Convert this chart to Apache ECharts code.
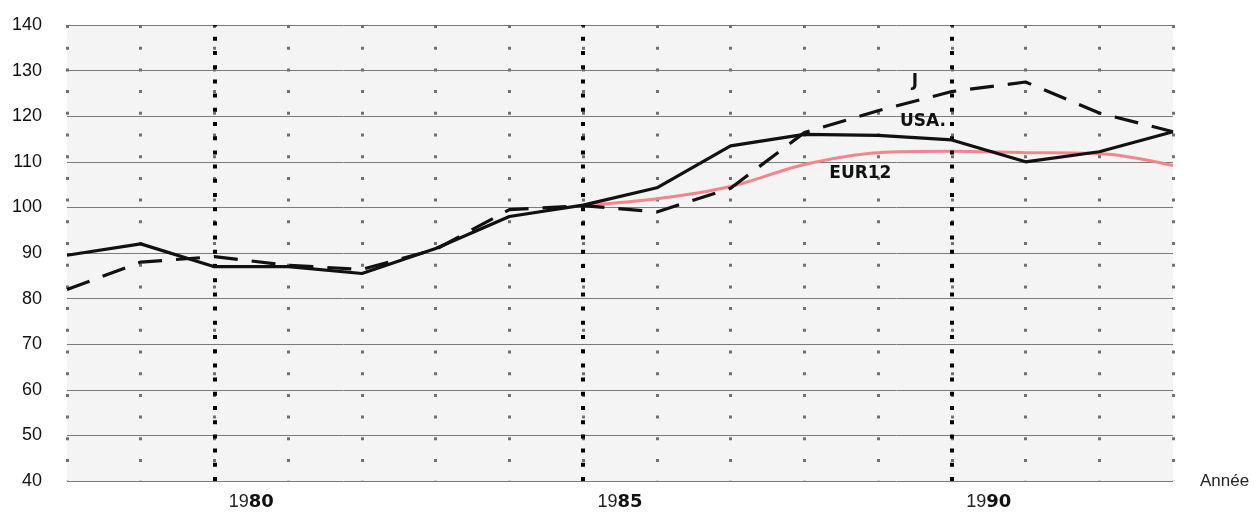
<!DOCTYPE html>
<html>
<head>
<meta charset="utf-8">
<script src="https://cdn.jsdelivr.net/npm/echarts@6/dist/echarts.min.js"></script>
<style>
html, body { margin: 0; padding: 0; background: #fff; }
#chart { width: 1258px; height: 518px; }
</style>
</head>
<body>
<div id="chart"></div>
<script>
// années (début de chaque année = une ligne verticale)
var years = [1978, 1979, 1980, 1981, 1982, 1983, 1984, 1985, 1986, 1987, 1988, 1989, 1990, 1991, 1992, 1993];
var usaValues = [89.5, 92, 87, 87, 85.5, 91, 98, 100.5, 104.3, 113.5, 116, 115.8, 114.8, 110, 112.2, 116.6];
var japonValues = [82, 88, 89.2, 87.3, 86.4, 90.8, 99.5, 100.4, 99, 104.2, 116.4, 121.2, 125.4, 127.5, 120.7, 116.6];
var eurYears = [1985, 1986, 1987, 1988, 1989, 1990, 1991, 1992, 1993];
var eurValues = [100.4, 101.9, 104.6, 109.4, 112, 112.3, 112, 111.8, 109.2];
var majorYears = [1980, 1985, 1990];          // lignes pointillées épaisses
var yearLabels = [1980.5, 1985.5, 1990.5];    // libellés au milieu de l'année
var yMin = 40, yMax = 140, yStep = 10;

function pairs(xs, ys) {
    var out = [];
    for (var i = 0; i < xs.length; i++) {
        out.push([xs[i], ys[i]]);
    }
    return out;
}

// étiquette posée sur un point (x, y) du repère
function tag(text, x, y) {
    return {
        symbol: 'circle',
        symbolSize: 1,
        silent: true,
        itemStyle: { color: 'rgba(0,0,0,0)' },
        label: {
            show: true,
            position: 'inside',
            formatter: text,
            fontFamily: 'DejaVu Sans',
            fontWeight: 'bold',
            fontSize: 17,
            color: '#111'
        },
        data: [{ coord: [x, y] }]
    };
}

var chart = echarts.init(document.getElementById('chart'));
chart.setOption({
    animation: false,
    grid: {
        left: 67,
        right: 85,
        top: 25,
        bottom: 37,
        show: true,
        backgroundColor: '#f4f4f4',
        borderWidth: 0
    },
    xAxis: {
        type: 'value',
        min: years[0],
        max: years[years.length - 1],
        interval: 1,
        name: 'Année',
        nameLocation: 'end',
        nameGap: 27,
        nameTextStyle: {
            fontFamily: 'Liberation Sans',
            fontSize: 17,
            color: '#222',
            verticalAlign: 'middle'
        },
        axisLine: { show: false },
        axisTick: { show: false },
        axisLabel: {
            customValues: yearLabels,
            margin: 12,
            formatter: function (v) {
                var s = String(Math.floor(v));
                return '{a|' + s.slice(0, 2) + '}{b|' + s.slice(2) + '}';
            },
            rich: {
                a: { fontFamily: 'Liberation Sans', fontSize: 18, color: '#222' },
                b: { fontFamily: 'DejaVu Sans', fontWeight: 'bold', fontSize: 18, color: '#111' }
            }
        },
        splitLine: {
            show: true,
            lineStyle: { color: '#707070', width: 3, type: [3, 18.7] }
        }
    },
    yAxis: {
        type: 'value',
        min: yMin,
        max: yMax,
        interval: yStep,
        axisLine: { show: false },
        axisTick: { show: false },
        axisLabel: {
            margin: 25,
            fontFamily: 'Liberation Sans',
            fontSize: 18,
            color: '#111'
        },
        splitLine: {
            show: true,
            lineStyle: { color: '#7a7a7a', width: 1 }
        }
    },
    series: [
        {
            name: 'EUR12',
            type: 'line',
            data: pairs(eurYears, eurValues),
            symbol: 'none',
            smooth: 0.3,
            z: 3,
            lineStyle: { color: '#f2868a', width: 3 },
            markPoint: tag('EUR12', 1988.76, 107.4)
        },
        {
            name: 'J',
            type: 'line',
            data: pairs(years, japonValues),
            symbol: 'none',
            z: 4,
            lineStyle: { color: '#111', width: 3.2, type: [24, 14] },
            markPoint: tag('J', 1989.5, 127.5)
        },
        {
            name: 'USA',
            type: 'line',
            data: pairs(years, usaValues),
            symbol: 'none',
            z: 5,
            lineStyle: { color: '#111', width: 3.2 },
            markPoint: tag('USA.', 1989.61, 118.8),
            markLine: {
                symbol: 'none',
                silent: true,
                label: { show: false },
                lineStyle: { color: '#000', width: 4, type: [4, 10.2] },
                data: majorYears.map(function (y) { return { xAxis: y }; })
            }
        }
    ]
});
</script>
</body>
</html>
